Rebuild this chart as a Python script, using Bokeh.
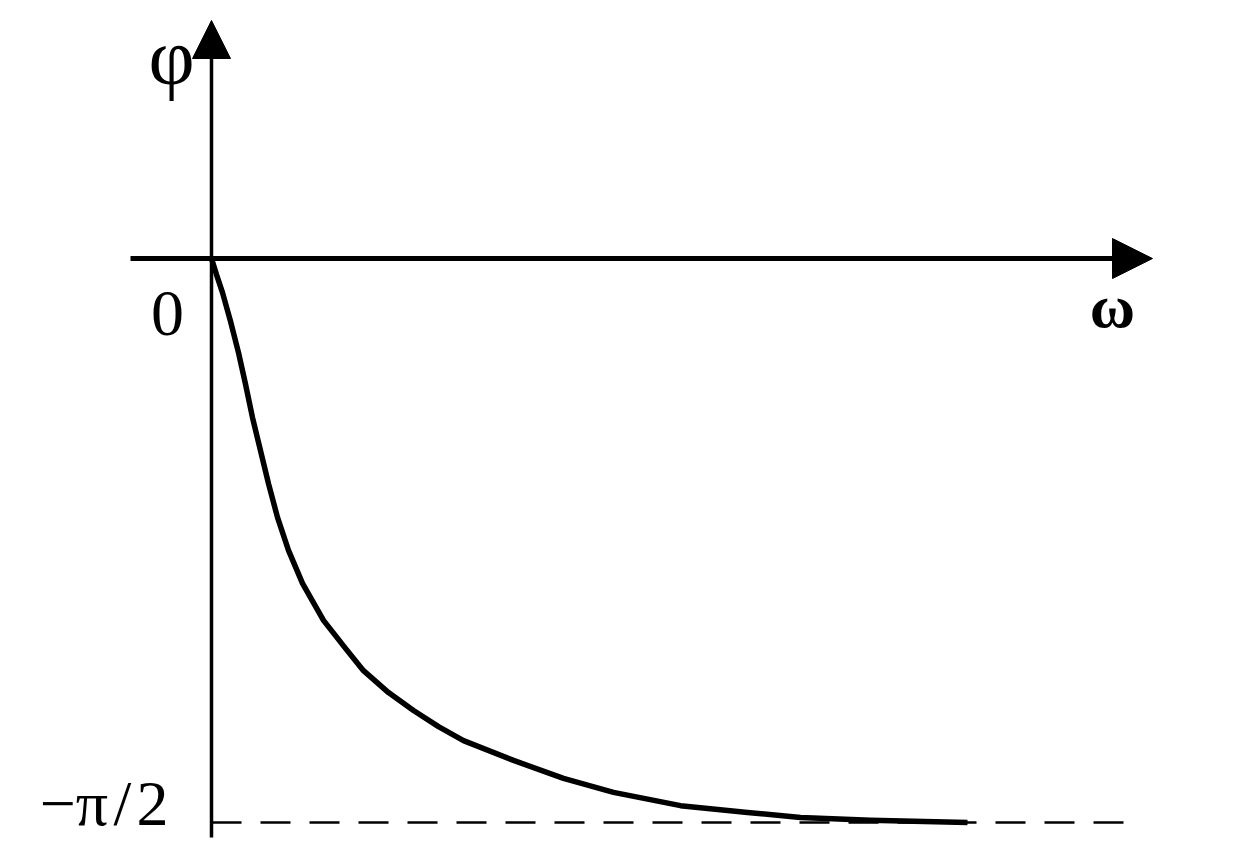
from bokeh.plotting import figure
from bokeh.models import Arrow, NormalHead, Range1d
from bokeh.core.properties import value
from bokeh.embed import file_html
from bokeh.resources import INLINE
import math

# Data: frequency ω (arbitrary units) and phase φ (rad)
omega = [0.0, 0.05, 0.11, 0.19, 0.27, 0.34, 0.41, 0.49, 0.57, 0.66, 0.77, 0.91,
         1.12, 1.34, 1.52, 1.77, 2.02, 2.27, 2.52, 3.02, 3.52, 4.02, 4.69,
         5.36, 5.89, 6.59, 7.56]
phi = [0.0, -0.045, -0.095, -0.175, -0.262, -0.350, -0.443, -0.535, -0.627,
       -0.721, -0.813, -0.905, -1.008, -1.086, -1.148, -1.209, -1.259, -1.304,
       -1.343, -1.398, -1.448, -1.487, -1.524, -1.543, -1.557, -1.565, -1.571]
asymptote = -math.pi / 2
asym_end = 9.24

FONT = value("Liberation Serif")

p = figure(width=1226, height=846, output_backend="svg", toolbar_location=None,
           x_range=Range1d(-2.11, 10.15), y_range=Range1d(-1.6378, 0.7187),
           min_border=0, x_axis_type=None, y_axis_type=None)
p.outline_line_color = None
p.grid.visible = False
p.background_fill_color = "white"

# dashed asymptote at -π/2
p.line([0, asym_end], [asymptote, asymptote], line_color="black",
       line_width=2.5, line_dash="30 19")

# axes with arrow heads
p.add_layout(Arrow(end=NormalHead(size=40, fill_color="black", line_color="black"),
                   x_start=-0.81, y_start=0, x_end=9.41, y_end=0,
                   line_width=5, line_color="black"))
p.add_layout(Arrow(end=NormalHead(size=38, fill_color="black", line_color="black"),
                   x_start=0, y_start=-1.613, x_end=0, y_end=0.663,
                   line_width=3.5, line_color="black"))

# phase curve
p.line(omega, phi, line_color="black", line_width=5.5, line_join="round")

# labels
p.text(x=[-0.40], y=[0.56], text=["φ"], text_font=FONT, text_font_size="80px",
       text_align="center", text_baseline="alphabetic", text_color="black")
p.text(x=[-0.44], y=[-0.153], text=["0"], text_font=FONT, text_font_size="66px",
       text_align="center", text_baseline="alphabetic", text_color="black")
p.text(x=[9.01], y=[-0.131], text=["ω"], text_font=FONT, text_font_size="62px",
       text_font_style="bold",
       text_align="center", text_baseline="alphabetic", text_color="black")
p.text(x=[-0.43], y=[-1.518], text=["−π\u200a/\u200a2"], text_font=FONT,
       text_font_size="64px",
       text_align="right", text_baseline="alphabetic", text_color="black")

open("out.html", "w").write(file_html(p, INLINE))
